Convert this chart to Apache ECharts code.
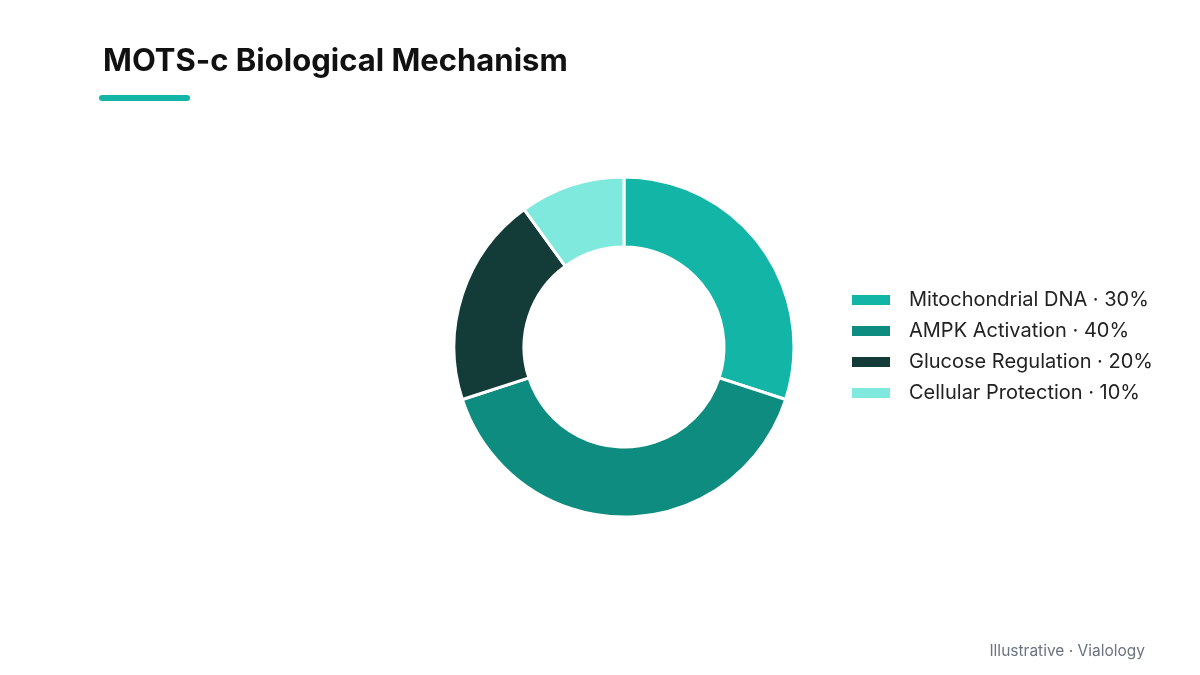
<!DOCTYPE html>
<html>
<head>
<meta charset="utf-8">
<script src="https://cdn.jsdelivr.net/npm/echarts@6/dist/echarts.min.js"></script>
<style>
  html, body { margin: 0; padding: 0; background: #ffffff; }
  #chart { width: 1200px; height: 675px; }
</style>
</head>
<body>
<div id="chart"></div>
<script>
// mechanism shares (%)
const categories = ['Mitochondrial DNA', 'AMPK Activation', 'Glucose Regulation', 'Cellular Protection'];
const shares = [30, 40, 20, 10];
const colors = ['#13b5a6', '#0d8c7f', '#133b38', '#80e9dd'];

const fontFamily = 'Inter, "Noto Sans", sans-serif';

let chart = echarts.init(document.getElementById('chart'));

let pieData = categories.map((name, i) => ({
    name: name,
    value: shares[i],
    itemStyle: { color: colors[i] }
}));

let option = {
    backgroundColor: '#ffffff',
    title: {
        text: 'MOTS-c Biological Mechanism',
        left: 103,
        top: 46,
        padding: 0,
        textStyle: {
            fontFamily: fontFamily,
            fontSize: 31,
            fontWeight: 'bold',
            color: '#111111'
        }
    },
    graphic: [
        {
            type: 'rect',
            left: 99,
            top: 95,
            shape: { width: 91, height: 6, r: 3 },
            style: { fill: '#13b5a6' }
        },
        {
            type: 'text',
            right: 55,
            top: 643,
            style: {
                text: 'Illustrative · Vialology',
                fill: '#6b7280',
                font: '15.5px ' + fontFamily
            }
        }
    ],
    legend: {
        orient: 'vertical',
        left: 850,
        top: 290,
        padding: 0,
        itemWidth: 40,
        itemHeight: 12,
        itemGap: 11,
        icon: 'rect',
        textStyle: {
            fontFamily: fontFamily,
            fontSize: 20,
            lineHeight: 20,
            color: '#222222',
            padding: [0, 0, 0, 13]
        },
        formatter: function (name) {
            let idx = categories.indexOf(name);
            return name + ' · ' + shares[idx] + '%';
        },
        data: categories
    },
    series: [
        {
            type: 'pie',
            center: [624, 347],
            radius: [100, 170],
            startAngle: 90,
            clockwise: true,
            avoidLabelOverlap: false,
            label: { show: false },
            labelLine: { show: false },
            emphasis: { disabled: true },
            itemStyle: {
                borderColor: '#ffffff',
                borderWidth: 3
            },
            data: pieData
        }
    ]
};

chart.setOption(option);
</script>
</body>
</html>
